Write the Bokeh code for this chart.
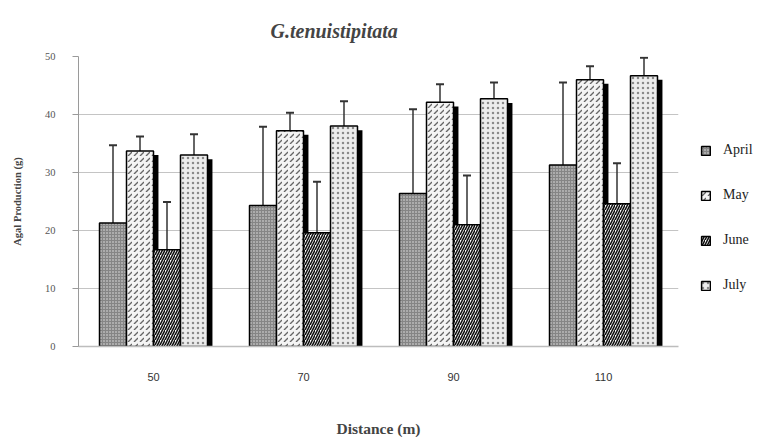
from bokeh.plotting import figure
from bokeh.models import (ColumnDataSource, FactorRange, Legend, LegendItem,
                          Whisker, TeeHead, FixedTicker)
from bokeh.transform import dodge
from bokeh.embed import file_html
from bokeh.resources import INLINE

# Algal production (g) by distance (m), monthly means with upper error bars
distances = ["50", "70", "90", "110"]
months = ["April", "May", "June", "July"]

april = [21.3, 24.3, 26.4, 31.3]
may = [33.7, 37.2, 42.1, 46.0]
june = [16.7, 19.6, 21.0, 24.6]
july = [33.0, 38.0, 42.7, 46.7]

april_err = [34.7, 37.9, 40.9, 45.5]
may_err = [36.2, 40.3, 45.2, 48.3]
june_err = [24.9, 28.4, 29.5, 31.6]
july_err = [36.6, 42.3, 45.5, 49.8]

y_ticks = [0, 10, 20, 30, 40, 50]

series = [
    ("April", april, april_err, dict(fill_color="#858585", hatch_pattern="dot",
                                     hatch_color="#e6e6e6", hatch_scale=3, hatch_weight=1)),
    ("May", may, may_err, dict(fill_color="#f4f4f4", hatch_pattern="right_diagonal_dash",
                               hatch_color="#666666", hatch_scale=6, hatch_weight=1.4)),
    ("June", june, june_err, dict(fill_color="#ffffff", hatch_pattern="right_diagonal_line",
                                  hatch_color="#111111", hatch_scale=5, hatch_weight=1.6)),
    ("July", july, july_err, dict(fill_color="#ececec", hatch_pattern="dot",
                                  hatch_color="#8a8a8a", hatch_scale=5, hatch_weight=1)),
]

SERIF = "Liberation Serif"

p = figure(x_range=FactorRange(*distances, range_padding=0), y_range=(0, 50),
           frame_width=600, frame_height=290, output_backend="svg", toolbar_location=None,
           min_border_left=78, min_border_right=82, min_border_top=56,
           min_border_bottom=91, outline_line_color=None)

p.title.text = "G.tenuistipitata"
p.title.text_font = SERIF
p.title.text_font_style = "bold italic"
p.title.text_font_size = "20px"
p.title.align = "left"
p.title.offset = 192
p.title.standoff = 30

bar_w = 0.18
shift_x = 0.033   # shadow offset, category units
shift_y = 0.7     # shadow drop, value units
offsets = [-1.5 * bar_w, -0.5 * bar_w, 0.5 * bar_w, 1.5 * bar_w]

bars = []
for (name, vals, errs, style), off in zip(series, offsets):
    src = ColumnDataSource(dict(x=distances, top=vals, err=errs,
                                shadow=[v - shift_y for v in vals]))
    p.vbar(x=dodge("x", off + shift_x, range=p.x_range), top="shadow", bottom=0,
           width=bar_w, source=src, fill_color="black", line_color=None)
    r = p.vbar(x=dodge("x", off, range=p.x_range), top="top", bottom=0, width=bar_w,
               source=src, line_color="black", line_width=1.5, **style)
    bars.append((name, r))
    p.add_layout(Whisker(source=src, base=dodge("x", off, range=p.x_range),
                         lower="top", upper="err", dimension="height",
                         line_color="#333333", line_width=1.5,
                         lower_head=None,
                         upper_head=TeeHead(size=8, line_color="#333333", line_width=2),
                         level="underlay"))

legend = Legend(items=[LegendItem(label=n, renderers=[r]) for n, r in bars],
                location=(22, 53), orientation="vertical",
                glyph_width=11, glyph_height=11, label_standoff=12,
                spacing=29, padding=0, margin=0, label_height=11,
                border_line_color=None, background_fill_alpha=0,
                label_text_font=SERIF, label_text_font_size="14px",
                label_text_color="#222222")
p.add_layout(legend, "right")

# y axis
p.yaxis.ticker = FixedTicker(ticks=y_ticks)
p.yaxis.axis_label = "Agal Production (g)"
p.yaxis.axis_label_text_font = SERIF
p.yaxis.axis_label_text_font_style = "bold"
p.yaxis.axis_label_text_font_size = "10.5px"
p.yaxis.axis_label_standoff = 19
p.yaxis.major_label_text_font = SERIF
p.yaxis.major_label_text_font_size = "10.5px"
p.yaxis.major_label_text_color = "#555555"
p.yaxis.major_label_standoff = 17
p.yaxis.major_tick_out = 6
p.yaxis.major_tick_in = 0
p.yaxis.minor_tick_line_color = None
p.yaxis.axis_line_color = "#9a9a9a"
p.yaxis.major_tick_line_color = "#9a9a9a"

# x axis
p.xaxis.axis_label = "Distance (m)"
p.xaxis.axis_label_text_font = SERIF
p.xaxis.axis_label_text_font_style = "bold"
p.xaxis.axis_label_text_font_size = "15.5px"
p.xaxis.axis_label_standoff = 36
p.xaxis.major_label_text_font = "Liberation Sans"
p.xaxis.major_label_text_font_size = "11px"
p.xaxis.major_label_text_color = "#333333"
p.xaxis.major_label_standoff = 26
p.xaxis.major_tick_out = 0
p.xaxis.major_tick_in = 0
p.xaxis.axis_line_color = "#bdbdbd"
p.xaxis.axis_line_width = 1.5

p.xgrid.grid_line_color = None
p.ygrid.grid_line_color = "#c4c4c4"
p.ygrid.grid_line_width = 1.2

open("out.html", "w").write(file_html(p, INLINE))
